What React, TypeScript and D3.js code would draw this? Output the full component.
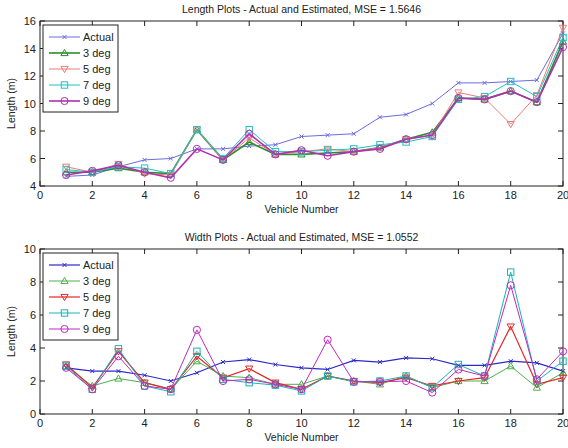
import React from 'react';
import * as d3 from 'd3';

// vehicle numbers 1..20
const vehicles = [1, 2, 3, 4, 5, 6, 7, 8, 9, 10, 11, 12, 13, 14, 15, 16, 17, 18, 19, 20];

// Length plot values (m)
const lenActual = [4.7, 4.8, 5.4, 5.9, 6.0, 6.7, 6.7, 6.9, 7.0, 7.6, 7.7, 7.8, 9.0, 9.2, 10.0, 11.5, 11.5, 11.6, 11.7, 15.1];
const len3 = [5.0, 5.0, 5.3, 5.0, 4.9, 8.1, 5.9, 7.2, 6.3, 6.3, 6.4, 6.5, 6.8, 7.4, 7.9, 10.4, 10.3, 10.9, 10.1, 14.5];
const len5 = [5.4, 5.0, 5.6, 4.9, 4.8, 8.1, 5.9, 7.5, 6.3, 6.5, 6.7, 6.5, 6.8, 7.4, 7.7, 10.8, 10.4, 8.5, 10.6, 15.5];
const len7 = [5.2, 5.0, 5.4, 5.3, 4.9, 8.1, 6.0, 8.1, 6.5, 6.5, 6.6, 6.7, 7.0, 7.2, 7.6, 10.3, 10.5, 11.6, 10.5, 14.8];
const len9 = [4.8, 5.1, 5.5, 5.0, 4.6, 6.7, 5.9, 7.8, 6.3, 6.6, 6.2, 6.5, 6.7, 7.4, 7.7, 10.4, 10.3, 10.9, 10.1, 14.1];

// Width plot values (m)
const widActual = [2.8, 2.6, 2.6, 2.35, 2.0, 2.5, 3.15, 3.3, 3.0, 2.8, 2.7, 3.25, 3.15, 3.4, 3.35, 2.95, 2.95, 3.2, 3.1, 2.6];
const wid3 = [2.9, 1.7, 2.15, 1.9, 1.5, 3.2, 2.3, 2.2, 1.8, 1.8, 2.3, 2.0, 1.8, 2.3, 1.6, 2.0, 2.0, 2.9, 1.6, 2.5];
const wid5 = [3.0, 1.6, 3.8, 1.9, 1.5, 3.5, 2.2, 2.75, 1.9, 1.5, 2.3, 2.0, 1.9, 2.2, 1.7, 2.0, 2.2, 5.3, 1.8, 2.2];
const wid7 = [2.9, 1.5, 3.95, 1.7, 1.35, 3.8, 2.1, 1.9, 1.75, 1.4, 2.3, 1.95, 2.0, 2.3, 1.6, 3.0, 2.3, 8.6, 2.0, 3.2];
const wid9 = [2.8, 1.5, 3.5, 1.7, 1.5, 5.1, 2.0, 2.1, 1.8, 1.5, 4.5, 1.95, 1.95, 2.0, 1.3, 2.7, 2.3, 7.8, 2.1, 3.8];

const seriesNames = ['Actual', '3 deg', '5 deg', '7 deg', '9 deg'];
const markerKinds = ['x', 'tri-up', 'tri-down', 'square', 'circle'];

const xTicks = [0, 2, 4, 6, 8, 10, 12, 14, 16, 18, 20];
const lenTicks = [4, 6, 8, 10, 12, 14, 16];
const widTicks = [0, 2, 4, 6, 8, 10];

const FONT = 'Liberation Sans, Arial, sans-serif';

const Marker = ({ kind, x, y, color }) => {
  const s = 3.6;
  if (kind === 'x') {
    return (
      <g stroke={color} strokeWidth={1}>
        <line x1={x - 2} y1={y - 2} x2={x + 2} y2={y + 2} />
        <line x1={x - 2} y1={y + 2} x2={x + 2} y2={y - 2} />
      </g>
    );
  }
  if (kind === 'tri-up') {
    return <path d={`M${x},${y - s}L${x + s},${y + s - 1}L${x - s},${y + s - 1}Z`} fill="none" stroke={color} />;
  }
  if (kind === 'tri-down') {
    return <path d={`M${x},${y + s}L${x + s},${y - s + 1}L${x - s},${y - s + 1}Z`} fill="none" stroke={color} />;
  }
  if (kind === 'square') {
    return <rect x={x - 3.2} y={y - 3.2} width={6.4} height={6.4} fill="none" stroke={color} />;
  }
  return <circle cx={x} cy={y} r={3.6} fill="none" stroke={color} />;
};

const Panel = ({ top, title, series, colors, widths, yDomain, yTicks }) => {
  const left = 40, right = 563, h = 165;
  const x = d3.scaleLinear().domain([0, 20]).range([left, right]);
  const y = d3.scaleLinear().domain(yDomain).range([top + h, top]);
  const line = d3.line<number>().x((_, i) => x(vehicles[i])).y(d => y(d));
  const tick = 5;

  return (
    <g fontFamily={FONT}>
      <text x={(left + right) / 2} y={top - 8} textAnchor="middle" fontSize={10.5} fill="#222">{title}</text>
      <rect x={left} y={top} width={right - left} height={h} fill="white" stroke="#222" />
      {xTicks.map(t => (
        <g key={'x' + t}>
          <line x1={x(t)} x2={x(t)} y1={top + h} y2={top + h - tick} stroke="#222" />
          <line x1={x(t)} x2={x(t)} y1={top} y2={top + tick} stroke="#222" />
          <text x={x(t)} y={top + h + 13} textAnchor="middle" fontSize={11} fill="#222">{t}</text>
        </g>
      ))}
      {yTicks.map(t => (
        <g key={'y' + t}>
          <line x1={left} x2={left + tick} y1={y(t)} y2={y(t)} stroke="#222" />
          <line x1={right} x2={right - tick} y1={y(t)} y2={y(t)} stroke="#222" />
          <text x={left - 4} y={y(t) + 4} textAnchor="end" fontSize={11} fill="#222">{t}</text>
        </g>
      ))}
      <text x={(left + right) / 2} y={top + h + 27} textAnchor="middle" fontSize={10.5} fill="#222">Vehicle Number</text>
      <text transform={`translate(15,${top + h / 2}) rotate(-90)`} textAnchor="middle" fontSize={10.5} fill="#222">Length (m)</text>

      {series.map((vals, si) => (
        <g key={si}>
          <path d={line(vals)} fill="none" stroke={colors[si]} strokeWidth={widths[si]} />
          {vals.map((v, i) => (
            <Marker key={i} kind={markerKinds[si]} x={x(vehicles[i])} y={y(v)} color={colors[si]} />
          ))}
        </g>
      ))}

      {/* legend */}
      <rect x={43} y={top + 4} width={75} height={87} fill="white" stroke="#222" />
      {seriesNames.map((n, i) => {
        const ly = top + 16 + i * 16;
        return (
          <g key={n}>
            <line x1={49} x2={80} y1={ly} y2={ly} stroke={colors[i]} strokeWidth={widths[i]} />
            <Marker kind={markerKinds[i]} x={64.5} y={ly} color={colors[i]} />
            <text x={83} y={ly + 4} fontSize={11} fill="#222">{n}</text>
          </g>
        );
      })}
    </g>
  );
};

const App = () => {
  return (
    <svg width={568} height={448} style={{ position: 'absolute', left: 0, top: 0, background: 'white' }}>
      <rect width={568} height={448} fill="white" />
      <Panel
        top={21}
        title="Length Plots - Actual and Estimated, MSE = 1.5646"
        series={[lenActual, len3, len5, len7, len9]}
        colors={['#6b6be0', '#2a8f2a', '#f07a7a', '#22c0c0', '#b030b0']}
        widths={[1, 1.6, 1, 1, 1.6]}
        yDomain={[4, 16]}
        yTicks={lenTicks}
      />
      <Panel
        top={249}
        title="Width Plots - Actual and Estimated, MSE = 1.0552"
        series={[widActual, wid3, wid5, wid7, wid9]}
        colors={['#2a2ac8', '#4cb04c', '#e02828', '#18b4b4', '#c028c0']}
        widths={[1.2, 1, 1.2, 1, 1]}
        yDomain={[0, 10]}
        yTicks={widTicks}
      />
    </svg>
  );
};

export default App;
